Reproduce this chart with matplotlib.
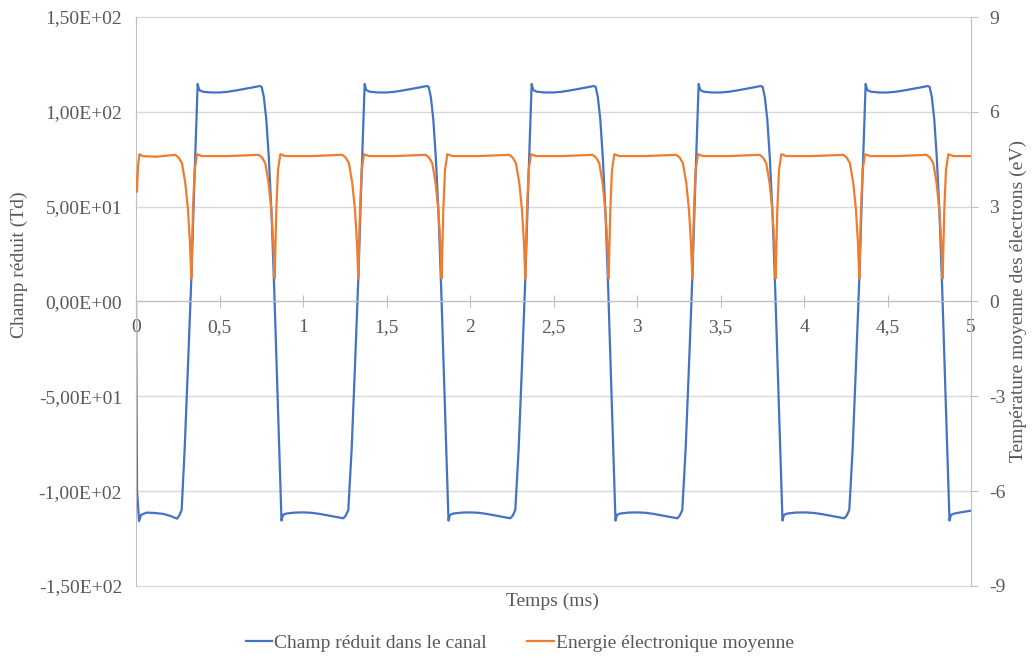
import numpy as np
import matplotlib
matplotlib.use('Agg')
import matplotlib.pyplot as plt
from matplotlib.ticker import FuncFormatter, MultipleLocator

plt.rcParams['font.family'] = ['Liberation Serif', 'DejaVu Serif']
plt.rcParams['axes.unicode_minus'] = False

# champ reduit (Td)
t_champ = [
    0.000, 0.006, 0.018, 0.030, 0.064, 0.110, 0.164, 0.210, 0.245, 0.258, 0.273,
    0.291, 0.311, 0.331, 0.350, 0.369, 0.378, 0.400, 0.450, 0.500, 0.550, 0.600, 0.650, 0.700, 0.740, 0.752,
    0.765, 0.780, 0.795, 0.812, 0.828, 0.850, 0.865, 0.871, 0.880, 0.900, 0.950,
    1.000, 1.050, 1.100, 1.150, 1.200, 1.241, 1.255, 1.271,
    1.291, 1.311, 1.331, 1.350, 1.369, 1.378, 1.400, 1.450, 1.500, 1.550, 1.600, 1.650, 1.700, 1.740, 1.752,
    1.765, 1.780, 1.795, 1.812, 1.828, 1.850, 1.865, 1.871, 1.880, 1.900, 1.950,
    2.000, 2.050, 2.100, 2.150, 2.200, 2.241, 2.255, 2.271,
    2.291, 2.311, 2.331, 2.350, 2.369, 2.378, 2.400, 2.450, 2.500, 2.550, 2.600, 2.650, 2.700, 2.740, 2.752,
    2.765, 2.780, 2.795, 2.812, 2.828, 2.850, 2.865, 2.871, 2.880, 2.900, 2.950,
    3.000, 3.050, 3.100, 3.150, 3.200, 3.241, 3.255, 3.271,
    3.291, 3.311, 3.331, 3.350, 3.369, 3.378, 3.400, 3.450, 3.500, 3.550, 3.600, 3.650, 3.700, 3.740, 3.752,
    3.765, 3.780, 3.795, 3.812, 3.828, 3.850, 3.865, 3.871, 3.880, 3.900, 3.950,
    4.000, 4.050, 4.100, 4.150, 4.200, 4.241, 4.255, 4.271,
    4.291, 4.311, 4.331, 4.350, 4.369, 4.378, 4.400, 4.450, 4.500, 4.550, 4.600, 4.650, 4.700, 4.740, 4.752,
    4.765, 4.780, 4.795, 4.812, 4.828, 4.850, 4.865, 4.871, 4.880, 4.900, 4.950, 5.000,
]
champ = [
    0, -100, -115.8, -112.5, -111.3, -111.5, -112.0, -113.2, -114.5, -113, -110,
    -78, -34, 12, 65, 114.7, 111.5, 110.6, 110.2, 110.2, 110.6, 111.3, 112.1, 112.9, 113.6, 113.2,
    108, 96, 76, 45, 5, -57, -100, -115.5, -112.5, -111.8, -111.3,
    -111.2, -111.4, -112.0, -112.8, -113.6, -114.3, -113, -110,
    -78, -34, 12, 65, 114.7, 111.5, 110.6, 110.2, 110.2, 110.6, 111.3, 112.1, 112.9, 113.6, 113.2,
    108, 96, 76, 45, 5, -57, -100, -115.5, -112.5, -111.8, -111.3,
    -111.2, -111.4, -112.0, -112.8, -113.6, -114.3, -113, -110,
    -78, -34, 12, 65, 114.7, 111.5, 110.6, 110.2, 110.2, 110.6, 111.3, 112.1, 112.9, 113.6, 113.2,
    108, 96, 76, 45, 5, -57, -100, -115.5, -112.5, -111.8, -111.3,
    -111.2, -111.4, -112.0, -112.8, -113.6, -114.3, -113, -110,
    -78, -34, 12, 65, 114.7, 111.5, 110.6, 110.2, 110.2, 110.6, 111.3, 112.1, 112.9, 113.6, 113.2,
    108, 96, 76, 45, 5, -57, -100, -115.5, -112.5, -111.8, -111.3,
    -111.2, -111.4, -112.0, -112.8, -113.6, -114.3, -113, -110,
    -78, -34, 12, 65, 114.7, 111.5, 110.6, 110.2, 110.2, 110.6, 111.3, 112.1, 112.9, 113.6, 113.2,
    108, 96, 76, 45, 5, -57, -100, -115.5, -112.5, -111.8, -111.0, -110.3,
]

# energie electronique moyenne (eV)
t_energie = [
    0.000, 0.005, 0.012, 0.020, 0.040, 0.120,
    0.235, 0.256, 0.275, 0.295, 0.311, 0.323, 0.331, 0.341, 0.351, 0.365, 0.395, 0.550,
    0.734, 0.755, 0.774, 0.794, 0.810, 0.822, 0.830, 0.840, 0.850, 0.864, 0.894, 1.050,
    1.235, 1.256, 1.275, 1.295, 1.311, 1.323, 1.331, 1.341, 1.351, 1.365, 1.395, 1.550,
    1.734, 1.755, 1.774, 1.794, 1.810, 1.822, 1.830, 1.840, 1.850, 1.864, 1.894, 2.050,
    2.235, 2.256, 2.275, 2.295, 2.311, 2.323, 2.331, 2.341, 2.351, 2.365, 2.395, 2.550,
    2.734, 2.755, 2.774, 2.794, 2.810, 2.822, 2.830, 2.840, 2.850, 2.864, 2.894, 3.050,
    3.235, 3.256, 3.275, 3.295, 3.311, 3.323, 3.331, 3.341, 3.351, 3.365, 3.395, 3.550,
    3.734, 3.755, 3.774, 3.794, 3.810, 3.822, 3.830, 3.840, 3.850, 3.864, 3.894, 4.050,
    4.235, 4.256, 4.275, 4.295, 4.311, 4.323, 4.331, 4.341, 4.351, 4.365, 4.395, 4.550,
    4.734, 4.755, 4.774, 4.794, 4.810, 4.822, 4.830, 4.840, 4.850, 4.864, 4.894, 5.000,
]
energie = [
    4.0, 3.47, 4.3, 4.66, 4.6, 4.58,
    4.64, 4.55, 4.37, 3.74, 2.9, 1.84, 0.73, 2.9, 4.16, 4.66, 4.6, 4.6,
    4.64, 4.55, 4.37, 3.74, 2.9, 1.84, 0.73, 2.9, 4.16, 4.66, 4.6, 4.6,
    4.64, 4.55, 4.37, 3.74, 2.9, 1.84, 0.73, 2.9, 4.16, 4.66, 4.6, 4.6,
    4.64, 4.55, 4.37, 3.74, 2.9, 1.84, 0.73, 2.9, 4.16, 4.66, 4.6, 4.6,
    4.64, 4.55, 4.37, 3.74, 2.9, 1.84, 0.73, 2.9, 4.16, 4.66, 4.6, 4.6,
    4.64, 4.55, 4.37, 3.74, 2.9, 1.84, 0.73, 2.9, 4.16, 4.66, 4.6, 4.6,
    4.64, 4.55, 4.37, 3.74, 2.9, 1.84, 0.73, 2.9, 4.16, 4.66, 4.6, 4.6,
    4.64, 4.55, 4.37, 3.74, 2.9, 1.84, 0.73, 2.9, 4.16, 4.66, 4.6, 4.6,
    4.64, 4.55, 4.37, 3.74, 2.9, 1.84, 0.73, 2.9, 4.16, 4.66, 4.6, 4.6,
    4.64, 4.55, 4.37, 3.74, 2.9, 1.84, 0.73, 2.9, 4.16, 4.66, 4.6, 4.6,
]

blue = '#4472C4'
orange = '#ED7D31'
txt = '#595959'
grid_c = '#D9D9D9'
axis_c = '#BFBFBF'
fs = 14

fig = plt.figure(figsize=(10.33, 6.59), dpi=100)
ax = fig.add_axes([0.1317, 0.1108, 0.8083, 0.8634])
ax2 = ax.twinx()

l1, = ax.plot(t_champ, champ, color=blue, lw=1.6, label='Champ réduit dans le canal')
l2, = ax2.plot(t_energie, energie, color=orange, lw=1.6, label='Energie électronique moyenne')

ax.set_xlim(0, 5)
ax.set_ylim(-150, 150)
ax2.set_ylim(-9, 9)

ax.yaxis.set_major_locator(MultipleLocator(50))
ax2.yaxis.set_major_locator(MultipleLocator(3))
ax.xaxis.set_major_locator(MultipleLocator(0.5))

ax.yaxis.set_major_formatter(FuncFormatter(lambda v, p: f'{v:.2E}'.replace('.', ',')))
ax.xaxis.set_major_formatter(FuncFormatter(lambda v, p: f'{v:g}'.replace('.', ',')))
ax2.yaxis.set_major_formatter(FuncFormatter(lambda v, p: f'{v:g}'))

ax.yaxis.grid(True, color=grid_c, lw=1)
ax.set_axisbelow(True)
for gl in ax.get_ygridlines():
    gl.set_clip_on(False)

ax.spines['bottom'].set_position(('data', 0))
ax.spines['top'].set_visible(False)
ax2.spines['top'].set_visible(False)
ax2.spines['bottom'].set_visible(False)
ax2.spines['left'].set_visible(False)
ax.spines['right'].set_visible(False)
ax.spines['left'].set_color(axis_c)
ax.spines['bottom'].set_color(axis_c)
ax2.spines['right'].set_color(axis_c)

ax.tick_params(axis='y', length=0, pad=10, labelsize=fs, labelcolor=txt)
ax.tick_params(axis='x', direction='inout', length=9, color=axis_c, pad=8, labelsize=fs, labelcolor=txt)
ax2.tick_params(axis='y', length=5, color=axis_c, pad=8, labelsize=fs, labelcolor=txt)

fig.text(0.019, 0.598, 'Champ réduit (Td)', rotation=90, ha='center', va='center', fontsize=fs, color=txt)
fig.text(0.986, 0.543, 'Température moyenne des électrons (eV)', rotation=90, ha='center', va='center',
         fontsize=fs, color=txt)
fig.text(0.535, 0.088, 'Temps (ms)', ha='center', va='center', fontsize=fs, color=txt)

leg = fig.legend(handles=[l1, l2], loc='center', bbox_to_anchor=(0.503, 0.024), ncol=2, frameon=False,
                 fontsize=fs, handlelength=1.35, handletextpad=0.1, columnspacing=2.1)
for t in leg.get_texts():
    t.set_color(txt)

fig.savefig('out.png', dpi=100)
